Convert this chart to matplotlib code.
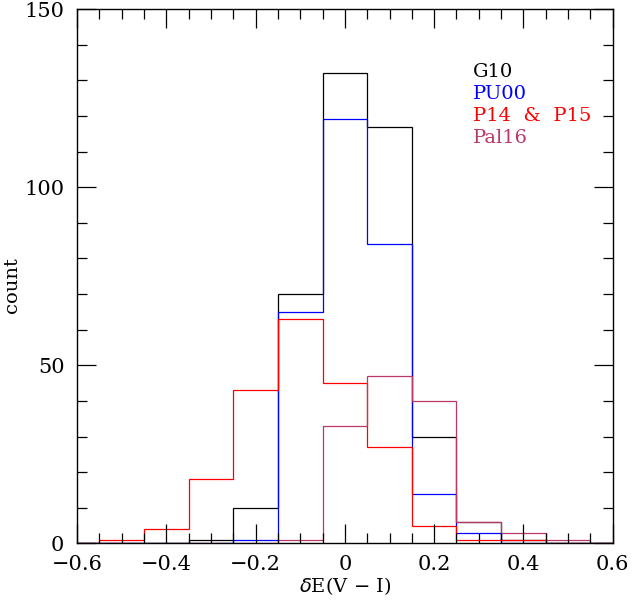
import numpy as np
import matplotlib
matplotlib.use('Agg')
import matplotlib.pyplot as plt
from matplotlib.ticker import MultipleLocator

# bin centres of the delta E(V-I) histogram (width 0.1)
centres = [-0.6, -0.5, -0.4, -0.3, -0.2, -0.1, 0.0, 0.1, 0.2, 0.3, 0.4, 0.5, 0.6]
g10   = [0, 0, 0, 1, 10, 70, 132, 117, 30, 6, 1, 0, 0]
pu00  = [0, 0, 0, 0, 1, 65, 119, 84, 14, 3, 0, 0, 0]
p1415 = [0, 1, 4, 18, 43, 63, 45, 27, 5, 1, 1, 0, 0]
pal16 = [0, 0, 0, 0, 0, 1, 33, 47, 40, 6, 3, 1, 0]

labels = ['G10', 'PU00', 'P14  &  P15', 'Pal16']
colors = ['black', 'blue', 'red', '#b8386a']

plt.rcParams['font.family'] = ['DejaVu Serif']

width = 0.1
edges = np.append(np.array(centres) - width/2, centres[-1] + width/2)

fig = plt.figure(figsize=(6.41, 6.03), dpi=100)
ax = fig.add_axes([0.120, 0.0987, 0.836, 0.8863])

for counts, col in zip([g10, pu00, p1415, pal16], colors):
    ax.stairs(counts, edges, baseline=0, color=col, lw=0.9)

ax.set_xlim(-0.6, 0.6)
ax.set_ylim(0, 150)
ax.xaxis.set_major_locator(MultipleLocator(0.2))
ax.xaxis.set_minor_locator(MultipleLocator(0.05))
ax.yaxis.set_major_locator(MultipleLocator(50))
ax.yaxis.set_minor_locator(MultipleLocator(10))
ax.xaxis.set_major_formatter(plt.FuncFormatter(lambda v, p: '0' if abs(v) < 1e-9 else ('%.1f' % v).replace('-', '\u2212')))
ax.tick_params(which='both', direction='in', top=True, right=True, labelsize=15, width=0.9)
ax.tick_params(which='major', length=14)
ax.tick_params(axis='x', which='major', pad=8)
ax.tick_params(axis='y', which='major', pad=9)
ax.tick_params(which='minor', length=7)
for sp in ax.spines.values():
    sp.set_linewidth(1.0)

ax.set_xlabel(r'$\delta$E(V $-$ I)', fontsize=14, labelpad=1)
ax.set_ylabel('count', fontsize=14)
ax.yaxis.set_label_coords(-0.105, 0.484)

for i, (lab, col) in enumerate(zip(labels, colors)):
    ax.text(0.739, 0.882 - i*0.041, lab, color=col, fontsize=14,
            transform=ax.transAxes, va='center', ha='left')

fig.savefig('out.png', dpi=100)
